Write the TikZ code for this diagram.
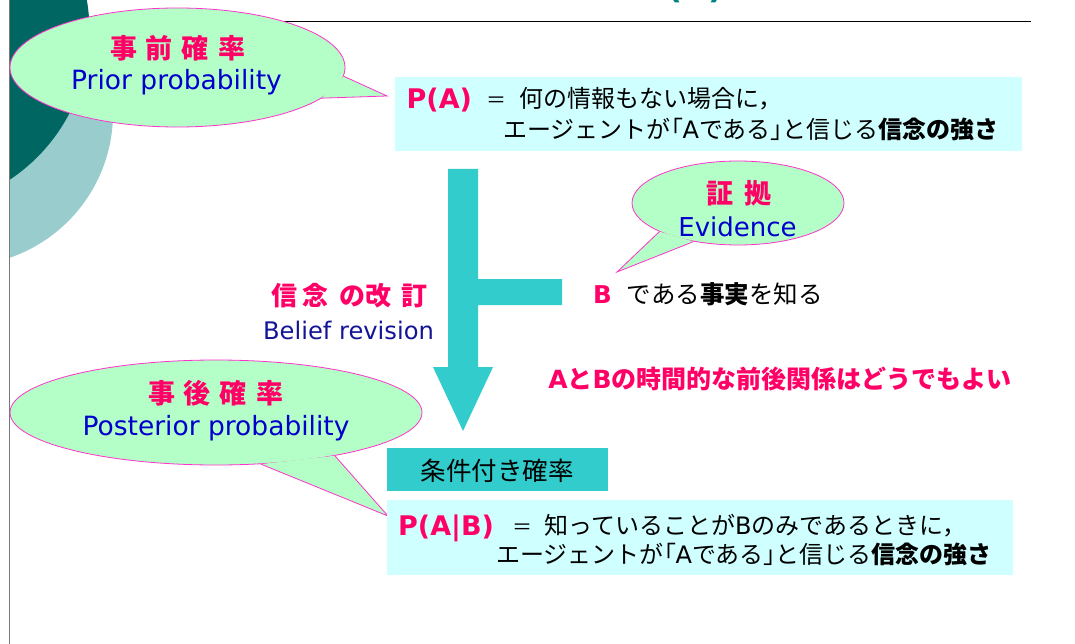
\documentclass[tikz,border=0pt]{standalone}
\usepackage{fontspec}
\setmainfont{Noto Sans CJK JP}
\newfontfamily\la{DejaVu Sans}
\newfontfamily\jpp[RawFeature=+palt]{Noto Sans CJK JP}
\usetikzlibrary{shapes.geometric}
\definecolor{mag}{RGB}{255,0,102}
\definecolor{eblue}{RGB}{0,0,204}
\definecolor{dblue}{RGB}{20,20,150}
\definecolor{bfill}{RGB}{180,254,199}
\definecolor{bline}{RGB}{255,51,204}
\definecolor{cfill}{RGB}{208,255,255}
\definecolor{teal1}{RGB}{51,204,204}
\definecolor{dteal}{RGB}{0,102,98}
\definecolor{lteal}{RGB}{153,204,204}
\definecolor{linegray}{RGB}{120,120,120}
\definecolor{titleteal}{RGB}{0,128,128}
\newcommand\myfs[1]{\fontsize{#1}{#1}\selectfont}
\newcommand\gp[1]{\hskip#1pt\relax}
\newcommand\lbr{{\jpp 「}}
\newcommand\rbr{{\jpp 」}}
\tikzset{
  bubble/.style={ellipse, draw=bline, fill=bfill, line width=0.8pt, inner sep=0pt},
  tailline/.style={draw=bline, line width=0.8pt, line join=miter},
  cbox/.style={fill=cfill, inner sep=0pt},
  tbox/.style={fill=teal1, inner sep=0pt},
  jptitle/.style={text=mag, font=\myfs{27}\bfseries, inner sep=0pt, anchor=base},
  entitle/.style={text=eblue, font=\la\myfs{26.5}, inner sep=0pt, anchor=base},
  boxtext/.style={font=\myfs{24}, inner sep=0pt, anchor=base west},
  formula/.style={text=mag, font=\la\bfseries\myfs{27}, inner sep=0pt, anchor=base west},
  eqsign/.style={font=\myfs{20}, inner sep=0pt, anchor=base},
}
\begin{document}
\begin{tikzpicture}[x=1pt,y=-1pt]
\useasboundingbox (0,0) rectangle (1075,644);
\fill[white] (0,0) rectangle (1075,644);
% background arcs
\begin{scope}
  \clip (10,0) rectangle (400,644);
  \fill[lteal] (-40,113) circle[radius=153];
  \fill[dteal] (-89,31) circle[radius=178.5];
\end{scope}
\draw[color=linegray, line width=1.5pt] (9.5,0) -- (9.5,644);
% title fragment and rule
\node[anchor=base west, inner sep=0pt, font=\la\bfseries\myfs{33}, text=titleteal] (title) at (643,-1.5) {P(A)};
\draw[line width=1.8pt] (180,21.5) -- (1031,21.5);

% prior bubble
\node[bubble, minimum width=335pt, minimum height=119pt] (prior) at (177.5,67.5) {};
\coordinate (priortip) at (387,96);
\fill[bfill] (prior.-3.3) -- (priortip) -- (prior.-12.5) -- cycle;
\draw[tailline] (prior.-3.3) -- (priortip) -- (prior.-12.5);
\node[jptitle] (priorjp) at (177.5,58.5) {事\gp{9}前\gp{9}確\gp{9}率};
\node[entitle] (prioren) at (176.5,89.5) {Prior probability};

% box 1
\node[cbox, minimum width=627pt, minimum height=74.3pt] (box1) at (708.5,113.8) {};
\node[formula] (pa) at (406.5,108.3) {P(A)};
\node[eqsign] (eq1) at (496,107.5) {＝};
\node[boxtext] (pa1) at (519,107.5) {何の情報もない場合に，};
\node[boxtext] (pa2) at (503,138.5) {エージェントが\lbr{\la A}である\rbr と信じる{\bfseries 信念の強さ}};

% revision arrow
\fill[teal1] (448,169) -- (478,169) -- (478,279) -- (562,279) -- (562,305) -- (478,305)
  -- (478,367) -- (493,367) -- (463,431) -- (433,367) -- (448,367) -- cycle;

% evidence bubble
\node[bubble, minimum width=212pt, minimum height=84pt] (evid) at (738,203) {};
\coordinate (evidtip) at (617,272);
\fill[bfill] (evid.200.4) -- (evidtip) -- (evid.221.5) -- cycle;
\draw[tailline] (evid.200.4) -- (evidtip) -- (evid.221.5);
\node[jptitle] (evidjp) at (739,203.5) {証\gp{12}拠};
\node[entitle, font=\la\myfs{26}] (eviden) at (737.5,236.5) {Evidence};

\node[anchor=base west, inner sep=0pt, font=\myfs{24.5}] (bfact) at (593,303)
  {{\la\bfseries\color{mag}B}\gp{15}である{\bfseries 事実}を知る};

\node[jptitle, font=\myfs{26}\bfseries, anchor=base west] (revjp) at (271,305.5) {信\gp{5}念\gp{11}の改\gp{10}訂};
\node[entitle, text=dblue, font=\la\myfs{24.2}] (reven) at (348.5,339) {Belief revision};

\node[jptitle, font=\myfs{25}\bfseries] (timenote) at (780,388) {{\la A}と{\la B}の時間的な前後関係はどうでもよい};

% posterior bubble
\node[bubble, minimum width=412pt, minimum height=105pt] (post) at (216,412.5) {};
\coordinate (posttip) at (388,516);
\fill[bfill] (post.-49.3) -- (posttip) -- (post.-20.8) -- cycle;
\draw[tailline] (post.-49.3) -- (posttip) -- (post.-20.8);
\node[jptitle] (postjp) at (215.5,403.5) {事\gp{9}後\gp{9}確\gp{9}率};
\node[entitle] (posten) at (216,435) {Posterior probability};

% conditional probability label
\node[tbox, minimum width=221pt, minimum height=42.7pt] (cond) at (497.2,469.3) {};
\node[font=\myfs{25.5}, inner sep=0pt, anchor=base] (condtxt) at (497,480) {条件付き確率};

% box 2
\node[cbox, minimum width=625.7pt, minimum height=75pt] (box2) at (700.2,537.5) {};
\node[formula] (pab) at (398,535) {P(A|B)};
\node[eqsign] (eq2) at (522.5,534) {＝};
\node[boxtext] (pb1) at (544,534) {知っていることが{\la B}のみであるときに，};
\node[boxtext] (pb2) at (496,563.5) {エージェントが\lbr{\la A}である\rbr と信じる{\bfseries 信念の強さ}};
\end{tikzpicture}
\end{document}
